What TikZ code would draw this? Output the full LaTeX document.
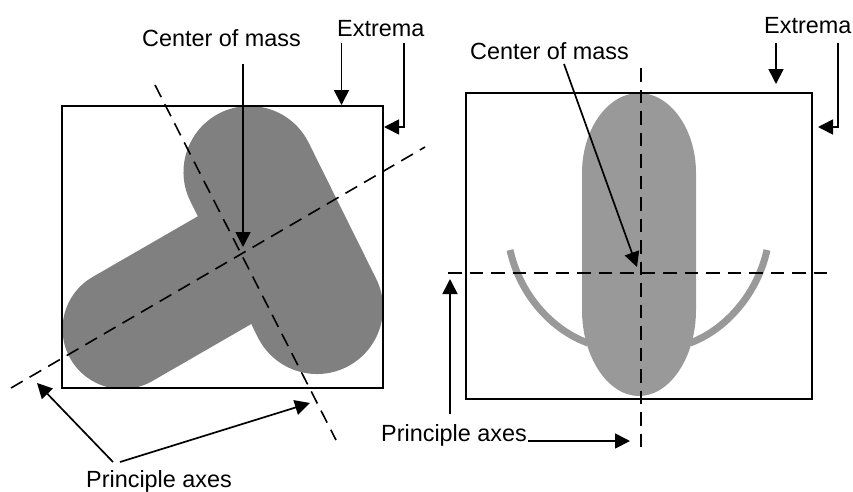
\documentclass[tikz,border=0pt]{standalone}
\usepackage{fontspec}
\setmainfont{Liberation Sans}
\usetikzlibrary{arrows.meta}
\definecolor{shapeA}{HTML}{808080}
\definecolor{shapeB}{HTML}{999999}
\tikzset{
  box/.style={draw=black,line width=1.6pt},
  axisline/.style={draw=black,line width=1.6pt,dash pattern=on 13.5pt off 8pt},
  pointer/.style={draw=black,line width=1.7pt,-{Triangle[length=15pt,width=15pt]}},
  lbl/.style={inner sep=0pt,anchor=base west,font=\fontsize{23.4pt}{26pt}\selectfont},
}
\begin{document}
\begin{tikzpicture}[x=1pt,y=-1pt]
\useasboundingbox (0,0) rectangle (853,491);
% left shape
\draw[shapeA,line width=132pt,line cap=round] (249.5,172) -- (317,308);
\draw[shapeA,line width=120pt,line cap=round] (122.5,329) -- (230,267);
\draw[box] (62,106) rectangle (383,388);
\coordinate (la1) at (11,388); \coordinate (la2) at (425,147);
\coordinate (lb1) at (155,85); \coordinate (lb2) at (336,440);
\draw[axisline] (la1) -- (la2);
\draw[axisline] (lb1) -- (lb2);
% left labels
\node[lbl] (lcom) at (142,46) {Center of mass};
\node[lbl] (lext) at (337,36) {Extrema};
\node[lbl] (lpa) at (86,487.5) {Principle axes};
\coordinate (lcomS) at (243,64); \coordinate (lcomE) at (243,247);
\draw[pointer] (lcomS) -- (lcomE);
\coordinate (le1S) at (341.5,43); \coordinate (le1E) at (341.5,105);
\draw[pointer] (le1S) -- (le1E);
\coordinate (le2S) at (404,43); \coordinate (le2M) at (404,127); \coordinate (le2E) at (384,127);
\draw[pointer] (le2S) -- (le2M) -- (le2E);
\coordinate (lp1S) at (113,462); \coordinate (lp1E) at (37,383);
\coordinate (lp2S) at (120,462); \coordinate (lp2E) at (310,403);
\draw[pointer] (lp1S) -- (lp1E);
\draw[pointer] (lp2S) -- (lp2E);
% right shape
\draw[shapeB,line width=7pt] (510,250) .. controls (520,295) and (552,330) .. (588,343);
\draw[shapeB,line width=7pt] (767,250) .. controls (757,295) and (725,330) .. (690,343);
\fill[shapeB] (582,173) .. controls (582,129) and (608,93) .. (639,93)
  .. controls (670,93) and (696,129) .. (696,173)
  -- (696,310) .. controls (696,357) and (670,396) .. (639,396)
  .. controls (608,396) and (582,357) .. (582,310) -- cycle;
\draw[box] (466,93) rectangle (812,399);
\coordinate (ra1) at (448,273); \coordinate (ra2) at (827,273);
\coordinate (rb1) at (641,68); \coordinate (rb2) at (641,452);
\draw[axisline] (ra1) -- (ra2);
\draw[axisline] (rb1) -- (rb2);
% right labels
\node[lbl] (rcom) at (470,59) {Center of mass};
\node[lbl] (rext) at (764,33) {Extrema};
\node[lbl] (rpa) at (381,441) {Principle axes};
\coordinate (rcomS) at (564,64); \coordinate (rcomE) at (637,267);
\draw[pointer] (rcomS) -- (rcomE);
\coordinate (re1S) at (776,43); \coordinate (re1E) at (776,84);
\draw[pointer] (re1S) -- (re1E);
\coordinate (re2S) at (838,43); \coordinate (re2M) at (838,127); \coordinate (re2E) at (818,127);
\draw[pointer] (re2S) -- (re2M) -- (re2E);
\coordinate (rp1S) at (450,414); \coordinate (rp1E) at (450,279);
\draw[pointer] (rp1S) -- (rp1E);
\coordinate (rp2S) at (528,441); \coordinate (rp2E) at (630,441);
\draw[pointer] (rp2S) -- (rp2E);
\end{tikzpicture}
\end{document}
